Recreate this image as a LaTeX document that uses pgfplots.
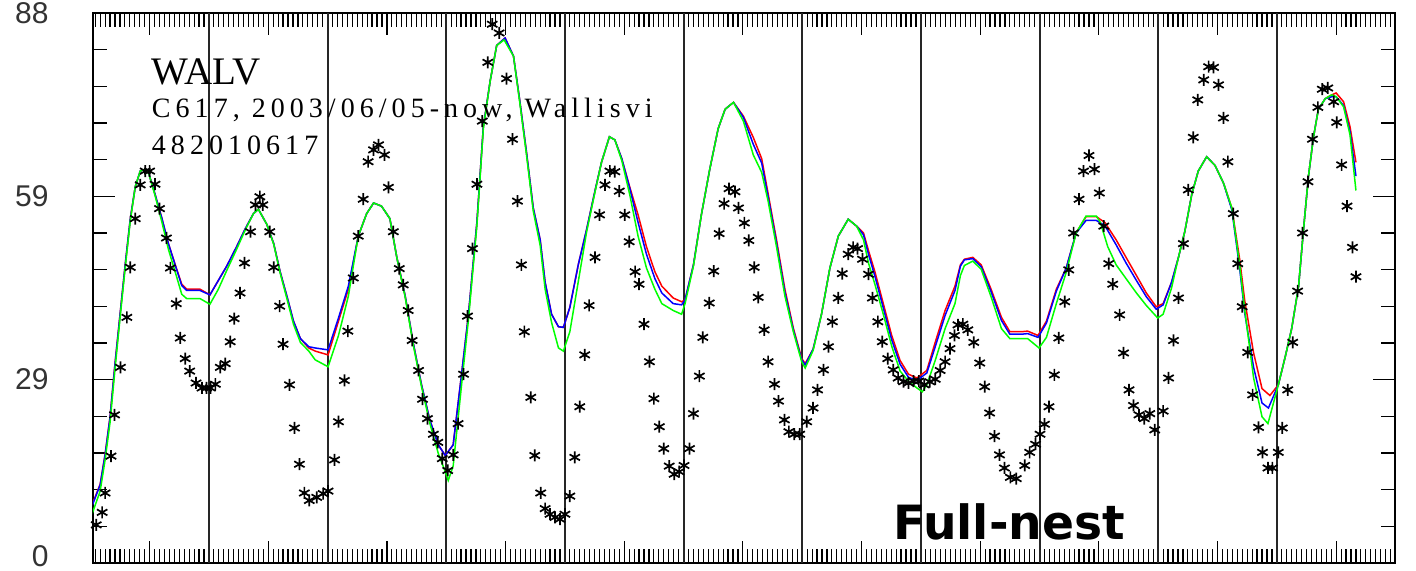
\documentclass[border=0pt]{standalone}
\usepackage{pgfplots}
\pgfplotsset{compat=1.18}
\usepackage{fontspec}
\setmainfont{Liberation Serif}
\newfontfamily\labelfont{Liberation Sans}
\newfontfamily\nestfont{DejaVu Sans}
\newfontfamily\plotfont[LetterSpace=18]{Liberation Serif}
\begin{document}
\begin{tikzpicture}
\begin{axis}[
  scale only axis, width=651pt, height=275pt,
  xmin=0.55, xmax=263.9, ymin=0, ymax=88,
  axis line style={black, line width=0.75pt},
  tick align=inside,
  major tick length=11pt, minor tick length=7pt,
  tick style={black, line width=0.6pt},
  xtick={12,36,...,252}, xticklabels={},
  minor xtick={1,...,263},
  ytick={0,29.3333,58.6667,88}, yticklabels={\raisebox{7pt}{0},29,59,88},
  minor ytick={5.8667,11.7333,17.6,23.4667,35.2,41.0667,46.9333,52.8,64.5333,70.4,76.2667,82.1333},
  yticklabel style={font=\labelfont\fontsize{15}{15}\selectfont, text=black!80, inner sep=0pt, xshift=-22pt},
  /pgf/number format/assume math mode=true,
  extra x ticks={24,48,...,240}, extra x tick labels={},
  extra x tick style={grid=major, major grid style={black!85, line width=1pt}, major tick length=0pt},
  clip=true,
]
% observations
\addplot[only marks, mark=asterisk, mark size=3pt, mark options={black, line width=0.85pt}] table {
1.2 6.1
2.4 8.1
3.0 11.2
4.2 17.1
4.9 23.7
6.1 31.3
7.4 39.3
8.1 47.3
9.1 55.1
10.1 60.5
11.1 62.7
12.0 62.7
13.1 60.6
14.0 56.7
15.4 52.0
16.2 47.2
17.4 41.5
18.2 36.0
19.2 32.7
20.1 30.7
21.4 28.8
22.6 28.0
23.5 28.0
24.3 28.0
25.3 28.6
26.3 31.3
27.3 31.9
28.3 35.4
29.1 39.1
30.3 43.2
31.2 48.0
32.4 53.0
33.4 57.3
34.3 58.6
34.9 57.3
36.3 53.0
37.1 47.3
38.3 41.1
39.0 35.0
40.3 28.5
41.3 21.6
42.3 15.8
43.3 11.2
44.3 10.0
45.8 10.5
47.1 11.1
48.1 11.5
49.4 16.5
50.2 22.6
51.4 29.2
52.1 37.1
53.2 45.6
54.2 52.3
55.2 58.2
56.2 64.2
57.3 66.1
58.3 66.9
59.5 65.3
60.3 60.1
61.3 53.0
62.5 47.1
63.3 44.5
64.3 40.4
65.1 35.6
66.4 30.8
67.2 26.2
68.2 23.1
69.4 20.6
70.3 19.3
71.2 16.7
72.3 14.8
73.4 17.3
74.4 22.3
75.5 30.2
76.3 39.5
77.3 50.3
78.2 60.6
79.3 70.7
80.4 80.1
81.3 86.2
82.7 84.8
84.2 77.5
85.4 67.8
86.4 57.9
87.2 47.7
87.8 37.0
89.1 26.5
89.9 17.2
91.1 11.2
92.0 8.7
93.0 7.8
94.0 7.3
95.0 7.0
96.0 7.8
97.0 10.7
98.0 16.9
99.0 25.0
100.0 33.3
100.9 41.2
102.1 48.9
103.0 55.7
104.1 60.5
105.1 62.7
106.1 62.6
107.0 59.5
108.1 55.7
109.0 51.4
110.2 46.6
111.0 44.6
112.0 38.2
113.1 32.2
114.0 26.3
115.1 21.8
116.0 18.3
117.1 15.5
118.1 14.2
119.1 14.6
120.1 15.6
121.2 18.3
122.0 23.9
123.2 29.9
123.9 36.1
125.2 41.6
126.1 46.7
127.2 52.7
128.2 57.5
129.2 59.9
130.4 59.4
131.1 56.8
132.3 54.4
133.2 51.6
134.3 47.3
135.1 42.5
136.3 37.3
137.1 32.2
138.4 28.6
139.2 25.9
140.4 22.9
141.3 21.0
142.4 20.6
143.5 20.6
144.9 22.6
146.2 24.8
147.1 27.7
148.3 30.9
149.3 34.6
150.1 38.6
151.3 42.4
152.1 46.3
153.3 49.4
154.3 50.5
155.2 50.3
156.2 48.6
157.4 46.2
158.2 42.4
159.3 38.6
160.2 35.4
161.3 32.7
162.4 30.9
163.4 29.6
164.5 29.0
165.5 28.8
166.5 29.1
167.6 29.1
168.7 28.5
169.8 29.0
170.9 29.4
171.9 30.8
172.9 32.2
173.9 34.3
174.8 36.4
175.5 38.1
176.5 38.2
177.5 37.3
178.7 35.3
179.9 32.0
180.9 28.2
181.9 24.0
182.9 20.3
183.9 17.3
184.9 15.2
186.1 13.7
187.3 13.5
189.0 15.6
190.0 17.7
191.2 19.0
192.1 20.6
193.0 22.2
193.9 25.0
195.0 30.1
195.9 36.0
197.1 41.8
197.9 46.9
198.9 52.8
200.0 58.2
200.9 62.7
202.0 65.2
203.1 63.0
204.1 59.2
205.0 53.9
206.0 47.9
206.8 44.6
208.2 39.7
209.0 33.6
210.1 27.7
211.0 25.2
212.1 23.7
213.2 23.1
214.3 23.9
215.3 21.3
217.0 24.3
218.1 29.6
219.1 35.6
220.1 42.4
221.1 51.1
222.1 59.7
223.1 68.1
224.0 74.1
225.2 77.3
226.2 79.4
227.2 79.3
228.2 76.5
229.2 71.2
230.1 64.2
231.2 55.9
232.1 47.9
233.0 41.0
234.1 33.7
235.1 26.9
236.3 21.7
237.1 17.7
238.2 15.2
239.1 15.2
240.3 17.7
241.1 21.6
242.2 27.7
243.2 35.3
244.2 43.5
245.2 52.8
246.3 61.0
247.2 67.8
248.3 72.9
249.2 75.8
250.3 76.0
251.5 73.8
252.1 70.5
253.1 63.7
254.2 57.1
255.3 50.5
256.0 45.8
};
% red model
\addplot[red, line width=0.75pt, mark=none] table {
0.3 9.2
2.0 12.6
3.0 17.4
4.0 23.4
5.0 31.9
6.1 40.4
7.1 48.0
8.1 55.1
9.1 60.2
10.1 62.7
11.1 63.0
11.8 62.4
13.1 59.0
14.5 55.1
15.8 51.1
17.2 47.7
18.5 44.6
19.5 43.8
22.2 43.8
24.2 42.9
25.9 45.2
27.6 47.5
29.6 50.6
31.3 53.4
33.0 55.9
34.0 56.6
35.7 54.2
37.1 51.1
38.4 46.6
39.8 42.6
41.1 38.7
42.5 35.9
44.2 34.4
45.5 33.9
48.1 33.3
50.2 38.7
52.2 43.8
54.2 52.3
55.9 55.9
57.3 57.6
58.9 57.1
60.6 55.1
62.0 48.9
63.7 42.7
65.3 35.3
67.0 28.5
68.7 22.8
70.4 18.9
71.8 17.2
73.4 18.9
75.1 30.2
76.5 39.8
78.2 54.5
79.5 69.8
80.9 77.2
82.2 82.8
83.9 84.0
85.6 81.1
86.9 73.8
88.2 65.9
89.6 56.8
91.0 51.7
92.0 44.9
93.3 39.8
94.7 37.8
95.7 37.7
97.0 40.9
98.7 47.7
100.4 53.4
102.1 59.6
103.4 64.1
105.0 68.2
106.1 67.7
107.5 64.7
109.1 60.2
110.8 55.7
112.5 50.6
114.2 46.6
115.6 44.3
117.9 42.4
119.6 41.8
120.3 42.1
122.0 47.7
123.6 55.7
125.3 63.0
127.0 69.5
128.4 72.6
130.1 73.7
132.1 71.5
134.1 68.1
135.8 64.7
137.1 59.1
138.8 51.7
140.5 43.8
142.2 37.6
143.9 32.7
144.6 31.9
146.2 34.2
147.9 39.8
149.6 47.2
151.3 52.3
153.3 55.0
155.0 53.9
156.4 52.8
157.4 50.0
158.7 46.6
160.4 41.5
162.1 36.4
163.8 32.4
165.5 30.2
167.2 29.6
169.2 30.8
170.9 35.3
172.9 40.4
174.9 44.3
176.0 47.7
176.8 48.6
178.5 48.9
180.2 47.7
182.2 43.8
184.3 39.3
186.0 37.0
188.3 37.0
189.6 37.1
191.7 36.4
193.4 38.7
195.4 43.8
197.4 47.2
199.4 52.8
201.4 55.4
203.5 55.4
205.2 54.5
207.5 51.7
209.5 48.9
211.6 46.0
213.6 43.2
215.6 41.0
217.0 41.5
218.7 44.9
220.1 48.9
221.4 53.1
222.8 59.0
224.1 62.7
225.8 65.0
227.5 63.6
229.2 60.8
230.9 56.8
232.5 48.5
233.5 42.0
235.3 33.6
237.0 27.9
238.6 26.8
240.3 28.5
241.7 33.0
243.0 37.5
244.4 44.3
245.4 53.4
246.4 61.9
247.4 68.1
248.4 72.6
249.8 74.3
251.1 74.9
252.0 75.2
253.5 73.8
254.8 69.8
256.0 64.1
};
% blue model
\addplot[blue, line width=0.75pt, mark=none] table {
0.3 9.0
2.0 12.5
3.0 17.3
4.0 23.3
5.0 31.8
6.1 40.3
7.1 48.0
8.1 55.1
9.1 60.2
10.1 62.7
11.1 63.0
11.8 62.4
13.1 59.0
14.5 55.1
15.8 51.1
17.2 47.6
18.5 44.4
19.5 43.6
22.2 43.6
24.2 42.9
25.9 45.2
27.6 47.5
29.6 50.6
31.3 53.4
33.0 55.9
34.0 56.6
35.7 54.2
37.1 51.1
38.4 46.6
39.8 42.6
41.1 38.7
42.5 35.9
44.2 34.6
45.5 34.4
48.1 34.1
50.2 39.2
52.2 44.3
54.2 52.3
55.9 55.9
57.3 57.6
58.9 57.1
60.6 55.1
62.0 48.9
63.7 42.7
65.3 35.3
67.0 28.5
68.7 22.8
70.4 18.9
71.8 17.2
73.4 18.9
75.1 30.2
76.5 39.8
78.2 54.5
79.5 69.8
80.9 77.2
82.2 82.8
83.9 84.0
85.6 81.1
86.9 73.8
88.2 65.9
89.6 56.8
91.0 51.7
92.0 44.9
93.3 39.8
94.7 37.8
95.7 37.7
97.0 40.9
98.7 47.7
100.4 53.4
102.1 59.6
103.4 64.1
105.0 68.2
106.1 67.7
107.5 64.7
109.1 60.0
110.8 54.5
112.5 49.4
114.2 45.5
115.6 43.2
117.9 41.5
119.6 41.3
120.3 42.1
122.0 47.7
123.6 55.7
125.3 63.0
127.0 69.5
128.4 72.6
130.1 73.7
132.1 71.3
134.1 67.0
135.8 64.0
137.1 58.6
138.8 51.2
140.5 43.3
142.2 37.3
143.9 32.5
144.6 31.7
146.2 34.2
147.9 39.8
149.6 47.2
151.3 52.3
153.3 55.0
155.0 53.9
156.4 52.5
157.4 49.4
158.7 45.9
160.4 40.8
162.1 35.7
163.8 31.8
165.5 29.7
167.2 29.2
169.2 30.4
170.9 34.6
172.9 39.6
174.9 43.6
176.0 47.5
176.8 48.5
178.5 48.7
180.2 47.4
182.2 43.4
184.3 38.8
186.0 36.6
188.3 36.6
189.6 36.7
191.7 36.1
193.4 38.4
195.4 43.5
197.4 47.2
199.4 52.8
201.4 54.8
203.5 54.8
205.2 54.0
207.5 50.9
209.5 48.0
211.6 45.2
213.6 42.6
215.6 40.6
217.0 41.3
218.7 44.9
220.1 48.9
221.4 53.1
222.8 59.0
224.1 62.7
225.8 65.0
227.5 63.6
229.2 60.8
230.9 56.5
232.5 47.0
233.5 40.0
235.3 31.3
237.0 25.6
238.3 24.8
240.3 28.5
241.7 33.0
243.0 37.5
244.4 44.3
245.4 53.4
246.4 61.9
247.4 68.1
248.4 72.6
249.8 74.3
251.1 74.6
252.0 74.6
253.5 73.2
254.8 69.0
256.0 61.9
};
% green model
\addplot[green, line width=0.75pt, mark=none] table {
0.3 7.7
2.0 11.5
3.0 16.5
4.0 22.5
5.0 31.0
6.1 39.8
7.1 47.5
8.1 54.8
9.1 60.2
10.1 62.7
11.1 63.0
11.8 62.4
13.1 58.8
14.5 54.5
15.8 50.2
17.2 46.5
18.5 43.0
19.5 42.3
22.2 42.3
24.2 41.4
25.9 43.8
27.6 46.8
29.6 50.2
31.3 53.2
33.0 55.9
34.0 56.6
35.7 54.2
37.1 51.0
38.4 46.4
39.8 42.2
41.1 38.2
42.5 35.3
44.2 33.9
45.5 32.5
48.1 31.4
50.2 36.4
52.2 42.7
54.2 52.3
55.9 55.9
57.3 57.6
58.9 57.1
60.6 55.1
62.0 48.9
63.7 42.5
65.3 35.0
67.0 28.2
68.7 22.3
70.4 17.5
71.8 14.6
72.4 13.2
73.4 15.5
75.1 28.5
76.5 39.0
78.2 54.0
79.5 69.5
80.9 77.2
82.2 82.8
83.7 83.7
85.6 81.1
86.9 73.5
88.2 65.5
89.6 56.3
91.0 50.8
92.0 43.8
93.3 38.5
94.7 34.4
95.7 33.9
97.0 37.0
98.7 45.0
100.4 53.0
102.1 59.4
103.4 64.1
105.0 68.2
106.1 67.7
107.5 64.4
109.1 59.0
110.8 52.3
112.5 47.2
114.2 43.8
115.6 41.5
117.9 40.4
119.6 39.8
120.3 41.5
122.0 47.5
123.6 55.7
125.3 63.0
127.0 69.5
128.4 72.6
130.1 73.7
132.1 70.7
134.1 65.3
135.8 62.5
137.1 57.9
138.8 50.6
140.5 42.7
142.2 37.0
143.9 32.2
144.6 31.2
146.2 34.0
147.9 39.8
149.6 47.2
151.3 52.3
153.3 55.0
155.0 53.9
156.4 51.7
157.4 48.0
158.7 44.6
160.4 39.8
162.1 34.7
163.8 30.7
165.5 29.1
167.2 28.0
168.3 27.4
169.2 28.5
170.9 32.4
172.9 37.5
174.9 41.5
176.0 46.0
176.8 47.6
178.5 48.3
180.2 47.0
182.2 42.6
184.3 37.5
186.0 35.9
188.3 35.9
189.6 35.9
191.9 34.4
193.4 36.1
195.4 41.5
197.4 46.5
199.4 52.8
201.4 55.5
203.5 55.5
204.3 54.5
205.8 50.6
207.5 47.7
209.5 45.5
211.6 43.2
213.6 41.2
215.9 39.2
217.0 39.8
218.7 44.0
220.1 48.9
221.4 53.1
222.8 59.0
224.1 62.7
225.8 65.0
227.5 63.6
229.2 60.8
230.9 56.8
232.5 47.5
233.5 40.5
235.3 29.6
237.0 23.4
238.2 22.3
240.3 28.5
241.7 33.0
243.0 37.5
244.4 44.3
245.4 53.4
246.4 61.9
247.4 68.1
248.4 72.6
249.8 74.3
251.1 74.9
252.0 74.6
253.5 73.0
254.8 68.5
256.0 59.6
};
\node[anchor=base west, inner sep=0pt, font=\fontsize{19.5}{19.5}\selectfont] at (axis cs:12.4,76.5) {WALV};
\node[anchor=base west, inner sep=0pt, font=\plotfont\fontsize{14}{14}\selectfont] at (axis cs:12.4,71.2) {C617, 2003/06/05-now, Wallisvi};
\node[anchor=base west, inner sep=0pt, font=\plotfont\fontsize{14}{14}\selectfont] at (axis cs:12.4,65.4) {482010617};
\node[anchor=base west, inner sep=0pt, font=\nestfont\bfseries\fontsize{23.6}{23.6}\selectfont] at (axis cs:162.3,3.7) {Full-nest};
\end{axis}
\pgfresetboundingbox
\path[use as bounding box] ([xshift=-46.5pt,yshift=-4pt]current axis.south west) rectangle ([xshift=10.5pt,yshift=6.5pt]current axis.north east);
\end{tikzpicture}
\end{document}
